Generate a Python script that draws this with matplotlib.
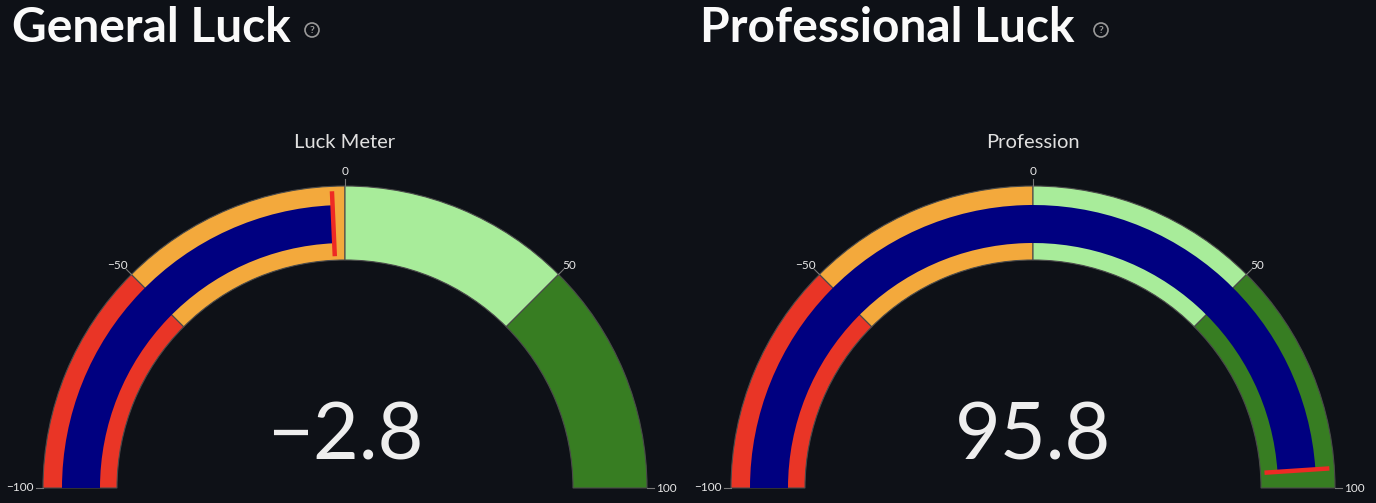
import matplotlib
matplotlib.use("Agg")
import matplotlib.pyplot as plt
from matplotlib.patches import Wedge, Circle
import numpy as np

# Data
titles = ["General Luck", "Professional Luck"]
gauge_titles = ["Luck Meter", "Profession"]
values = [-2.8, 95.8]
step_ranges = [(-100, -50), (-50, 0), (0, 50), (50, 100)]
step_colors = ["#e93526", "#f3a93c", "#a8ec9a", "#377d22"]
tick_values = [-100, -50, 0, 50, 100]
tick_labels = ["\u2212100", "\u221250", "0", "50", "100"]

BG = "#0e1117"
W, H = 1376, 503
FONT = ["Lato", "DejaVu Sans"]

fig = plt.figure(figsize=(W / 100, H / 100), dpi=100, facecolor=BG)
ax = fig.add_axes([0, 0, 1, 1])
ax.set_xlim(0, W)
ax.set_ylim(0, H)
ax.set_facecolor(BG)
ax.axis("off")


def ang(v):
    return 180 - (v + 100) / 200 * 180


def Y(y):
    return H - y


centers_x = [345, 1033]
cy = Y(488)
R_out, R_in = 302, 228
bar_out, bar_in = 283, 245

for i, cx in enumerate(centers_x):
    # steps
    for (a, b), col in zip(step_ranges, step_colors):
        ax.add_patch(Wedge((cx, cy), R_out, ang(b), ang(a), width=R_out - R_in,
                           facecolor=col, edgecolor="#4a4a4a", linewidth=0.8))
    # value bar
    ax.add_patch(Wedge((cx, cy), bar_out, ang(values[i]), ang(-100), width=bar_out - bar_in,
                       facecolor="#000080", edgecolor="none"))
    # threshold
    t = np.deg2rad(ang(values[i]))
    ax.plot([cx + 232 * np.cos(t), cx + 297 * np.cos(t)],
            [cy + 232 * np.sin(t), cy + 297 * np.sin(t)],
            color="#ee2a24", linewidth=3.2, solid_capstyle="butt")
    # ticks
    for tv, tl in zip(tick_values, tick_labels):
        t = np.deg2rad(ang(tv))
        ax.plot([cx + R_out * np.cos(t), cx + (R_out + 7) * np.cos(t)],
                [cy + R_out * np.sin(t), cy + (R_out + 7) * np.sin(t)],
                color="#777777", linewidth=0.8)
        c, s = np.cos(t), np.sin(t)
        ha = "center" if abs(c) < 0.2 else ("right" if c < 0 else "left")
        va = "bottom" if s > 0.2 else "center"
        off = 9 if abs(c) < 0.2 or abs(s) < 0.2 else 5
        ax.text(cx + (R_out + off) * c, cy + (R_out + off) * s, tl, ha=ha, va=va,
                fontsize=8.5, color="#e8e8e8", family=FONT)
    # gauge title
    ax.text(cx, Y(142), gauge_titles[i], ha="center", va="center",
            fontsize=14.5, color="#e0e0e0", family=FONT)
    # number
    ax.text(cx, Y(437), f"{values[i]:.1f}".replace("-", "\u2212"), ha="center", va="center",
            fontsize=57, color="#eeeeee", family=FONT)

# page headings with help icons
head_x = [12, 700]
icon_x = [312, 1101]
for i in range(2):
    ax.text(head_x[i], Y(28), titles[i], ha="left", va="center",
            fontsize=34.5, fontweight="bold", color="#fafafa", family=FONT)
    ax.add_patch(Circle((icon_x[i], Y(30)), 7, facecolor="none", edgecolor="#9a9a9a", linewidth=1.2))
    ax.text(icon_x[i], Y(30), "?", ha="center", va="center", fontsize=7.5,
            fontweight="bold", color="#9a9a9a", family=FONT)

fig.savefig("out.png", dpi=100, facecolor=BG)
plt.close(fig)
